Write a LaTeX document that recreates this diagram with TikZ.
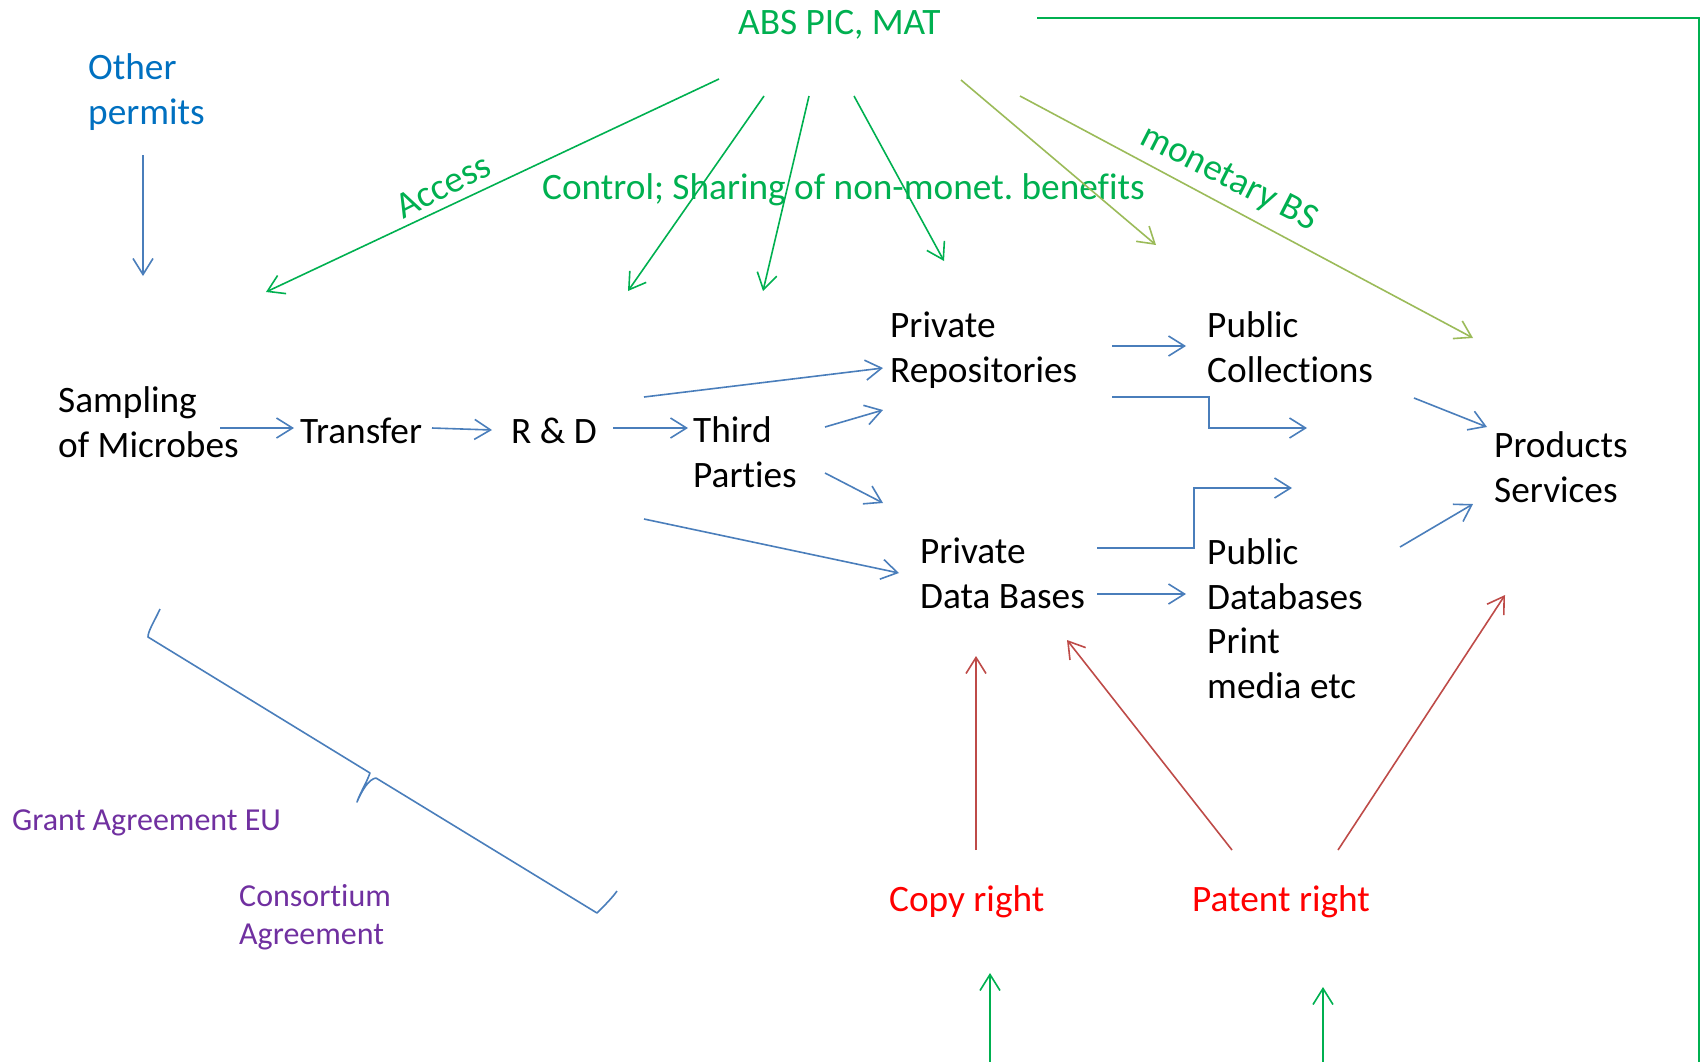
\documentclass[tikz,border=0pt]{standalone}
\usepackage{fontspec}
\setmainfont{Carlito}[RawFeature={-liga;-clig;-calt;-dlig}]
\usetikzlibrary{arrows.meta}
\definecolor{absgreen}{HTML}{00B050}
\definecolor{olivegreen}{HTML}{9BBB59}
\definecolor{flowblue}{HTML}{4A7EBB}
\definecolor{permitblue}{HTML}{0070C0}
\definecolor{rightred}{HTML}{FF0000}
\definecolor{arrowred}{HTML}{BE4B48}
\definecolor{agreepurple}{HTML}{7030A0}
\frenchspacing

\begin{document}
\begin{tikzpicture}[x=1pt,y=-1pt,
  % multi-line labels are placed by the baseline of their last line
  lbl/.style={anchor=base west, inner sep=0pt, align=left,
              font=\fontsize{37.3}{44.5}\selectfont},
  smalllbl/.style={anchor=base west, inner sep=0pt, align=left,
              font=\fontsize{32}{38}\selectfont},
  tilted/.style={inner sep=0pt, font=\fontsize{37.3}{44}\selectfont, text=absgreen},
  arr/.style={-{Straight Barb[length=16pt,width=20pt]}, line width=1.6pt},
  bluearr/.style={arr, flowblue},
  greenarr/.style={arr, absgreen},
  olivearr/.style={arr, olivegreen},
  redarr/.style={arr, arrowred}]

\useasboundingbox (0,0) rectangle (1702,1061);

% ---- texts ----
\node[lbl, text=absgreen] (abs) at (738,34) {ABS PIC, MAT};
\node[lbl, text=permitblue] (permits) at (88,124) {Other\\permits};
\node[lbl, text=absgreen] (ctrl) at (542,199) {Control; Sharing of non-monet. benefits};
\node[tilted, rotate=27] (access) at (443,186) {Access};
\node[tilted, rotate=-27] (mbs) at (1229,179) {monetary BS};

\node[lbl] (samp) at (58,457) {Sampling\\of Microbes};
\node[lbl] (transfer) at (300,443) {Transfer};
\node[lbl] (rd) at (511,443) {R \& D};
\node[lbl] (third) at (693,487) {Third\\Parties};
\node[lbl] (privrep) at (890,382) {Private\\Repositories};
\node[lbl] (pubcol) at (1207,382) {Public\\Collections};
\node[lbl] (prod) at (1494,502) {Products\\Services};
\node[lbl] (privdb) at (920,608) {Private\\Data Bases};
\node[lbl] (pubdb) at (1207,698) {Public\\Databases\\Print\\media etc};

\node[lbl, text=rightred] (copy) at (889,911) {Copy right};
\node[lbl, text=rightred] (patent) at (1192,911) {Patent right};
\node[smalllbl, text=agreepurple] (grant) at (12,830) {Grant Agreement EU};
\node[smalllbl, text=agreepurple] (consort) at (239,944) {Consortium\\Agreement};

% ---- arrow end points ----
\coordinate (absA) at (719,79);   \coordinate (accEnd) at (266,292);
\coordinate (absB) at (764,96);   \coordinate (ctlA) at (628,291);
\coordinate (absC) at (809,96);   \coordinate (ctlB) at (763,291);
\coordinate (absD) at (854,96);   \coordinate (ctlC) at (944,261);
\coordinate (absE) at (961,80);   \coordinate (monA) at (1156,245);
\coordinate (absF) at (1020,96);  \coordinate (monB) at (1473,338);
\coordinate (frameS) at (1037,18); \coordinate (frameC) at (1699,18);
\coordinate (frameE) at (1699,1062);

\coordinate (perS) at (143,155);  \coordinate (perE) at (143,276);
\coordinate (sampE) at (220,428); \coordinate (trIn) at (294,428);
\coordinate (trOut) at (432,428); \coordinate (rdIn) at (492,430);
\coordinate (rdOut) at (613,428); \coordinate (thIn) at (688,428);
\coordinate (rdUp) at (644,397);  \coordinate (repIn) at (883,368);
\coordinate (rdDn) at (644,519);  \coordinate (dbIn) at (899,573);
\coordinate (thUp) at (825,427);  \coordinate (thUpE) at (883,410);
\coordinate (thDn) at (825,473);  \coordinate (thDnE) at (883,503);
\coordinate (repA) at (1112,346); \coordinate (colIn) at (1186,346);
\coordinate (repB) at (1112,397); \coordinate (repBk) at (1209,397);
\coordinate (repBE) at (1307,428);
\coordinate (dbA) at (1097,548);  \coordinate (dbAk) at (1194,548);
\coordinate (dbAE) at (1292,488);
\coordinate (dbB) at (1097,594);  \coordinate (pdbIn) at (1186,594);
\coordinate (colOut) at (1414,398); \coordinate (prodIn) at (1487,427);
\coordinate (pdbOut) at (1400,547); \coordinate (prodInB) at (1473,504);

\coordinate (cpS) at (976,850);   \coordinate (cpE) at (976,656);
\coordinate (ptA) at (1232,850);  \coordinate (ptAE) at (1067,640);
\coordinate (ptB) at (1338,850);  \coordinate (ptBE) at (1505,595);
\coordinate (cpG) at (990,1062);  \coordinate (cpGE) at (990,973);
\coordinate (ptG) at (1323,1062); \coordinate (ptGE) at (1323,987);

% ---- ABS PIC, MAT arrows ----
\draw[greenarr] (absA) -- (accEnd);
\draw[greenarr] (absB) -- (ctlA);
\draw[greenarr] (absC) -- (ctlB);
\draw[greenarr] (absD) -- (ctlC);
\draw[olivearr] (absE) -- (monA);
\draw[olivearr] (absF) -- (monB);
\draw[absgreen, line width=2.4pt] (frameS) -- (frameC) -- (frameE);

% ---- value chain ----
\draw[bluearr] (perS) -- (perE);
\draw[bluearr] (sampE) -- (trIn);
\draw[bluearr] (trOut) -- (rdIn);
\draw[bluearr] (rdOut) -- (thIn);
\draw[bluearr] (rdUp) -- (repIn);
\draw[bluearr] (rdDn) -- (dbIn);
\draw[bluearr] (thUp) -- (thUpE);
\draw[bluearr] (thDn) -- (thDnE);
\draw[bluearr] (repA) -- (colIn);
\draw[bluearr] (repB) -- (repBk) |- (repBE);
\draw[bluearr] (dbA) -- (dbAk) |- (dbAE);
\draw[bluearr] (dbB) -- (pdbIn);
\draw[bluearr] (colOut) -- (prodIn);
\draw[bluearr] (pdbOut) -- (prodInB);

% ---- rights ----
\draw[redarr] (cpS) -- (cpE);
\draw[redarr] (ptA) -- (ptAE);
\draw[redarr] (ptB) -- (ptBE);
\draw[greenarr] (cpG) -- (cpGE);
\draw[greenarr] (ptG) -- (ptGE);

% ---- agreement brace ----
\draw[flowblue, line width=1.6pt, line join=round]
  (160,609) .. controls (154,622) and (148,631) .. (148,637)
  -- (370,773) .. controls (366,784) and (360,793) .. (357,802)
  .. controls (362,790) and (369,779) .. (376,778)
  -- (597,913) .. controls (605,905) and (612,898) .. (617,891);
\end{tikzpicture}
\end{document}
